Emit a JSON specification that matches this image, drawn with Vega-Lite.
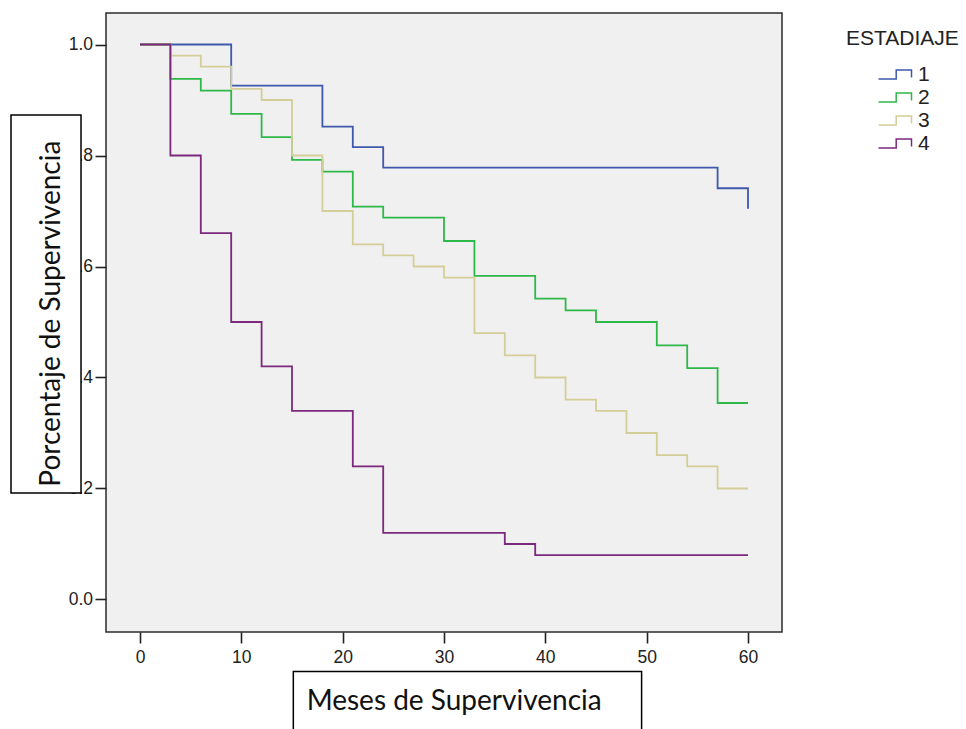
{
  "$schema": "https://vega.github.io/schema/vega-lite/v6.json",
  "width": 676,
  "height": 619,
  "autosize": "none",
  "padding": {"left": 106, "top": 13, "right": 184, "bottom": 97},
  "background": "white",
  "config": {
    "view": {"fill": "#f0f0f0", "stroke": "#2b2b2b", "strokeWidth": 1.5},
    "axis": {
      "domain": false,
      "grid": false,
      "tickSize": 11,
      "tickWidth": 1.6,
      "tickColor": "#222222",
      "labelFont": "Liberation Sans",
      "labelFontSize": 17.5,
      "labelColor": "#222222",
      "title": null
    }
  },
  "datasets": {
    "curvas": [
      {"estadiaje": "1", "meses": 0, "supervivencia": 1.0},
      {"estadiaje": "1", "meses": 9, "supervivencia": 0.926},
      {"estadiaje": "1", "meses": 18, "supervivencia": 0.852},
      {"estadiaje": "1", "meses": 21, "supervivencia": 0.815},
      {"estadiaje": "1", "meses": 24, "supervivencia": 0.778},
      {"estadiaje": "1", "meses": 57, "supervivencia": 0.741},
      {"estadiaje": "1", "meses": 60, "supervivencia": 0.704},
      {"estadiaje": "2", "meses": 0, "supervivencia": 1.0},
      {"estadiaje": "2", "meses": 3, "supervivencia": 0.938},
      {"estadiaje": "2", "meses": 6, "supervivencia": 0.917},
      {"estadiaje": "2", "meses": 9, "supervivencia": 0.875},
      {"estadiaje": "2", "meses": 12, "supervivencia": 0.833},
      {"estadiaje": "2", "meses": 15, "supervivencia": 0.792},
      {"estadiaje": "2", "meses": 18, "supervivencia": 0.771},
      {"estadiaje": "2", "meses": 21, "supervivencia": 0.708},
      {"estadiaje": "2", "meses": 24, "supervivencia": 0.688},
      {"estadiaje": "2", "meses": 30, "supervivencia": 0.646},
      {"estadiaje": "2", "meses": 33, "supervivencia": 0.583},
      {"estadiaje": "2", "meses": 39, "supervivencia": 0.542},
      {"estadiaje": "2", "meses": 42, "supervivencia": 0.521},
      {"estadiaje": "2", "meses": 45, "supervivencia": 0.5},
      {"estadiaje": "2", "meses": 51, "supervivencia": 0.458},
      {"estadiaje": "2", "meses": 54, "supervivencia": 0.417},
      {"estadiaje": "2", "meses": 57, "supervivencia": 0.354},
      {"estadiaje": "2", "meses": 60, "supervivencia": 0.354},
      {"estadiaje": "3", "meses": 0, "supervivencia": 1.0},
      {"estadiaje": "3", "meses": 3, "supervivencia": 0.98},
      {"estadiaje": "3", "meses": 6, "supervivencia": 0.96},
      {"estadiaje": "3", "meses": 9, "supervivencia": 0.92},
      {"estadiaje": "3", "meses": 12, "supervivencia": 0.9},
      {"estadiaje": "3", "meses": 15, "supervivencia": 0.8},
      {"estadiaje": "3", "meses": 18, "supervivencia": 0.7},
      {"estadiaje": "3", "meses": 21, "supervivencia": 0.64},
      {"estadiaje": "3", "meses": 24, "supervivencia": 0.62},
      {"estadiaje": "3", "meses": 27, "supervivencia": 0.6},
      {"estadiaje": "3", "meses": 30, "supervivencia": 0.58},
      {"estadiaje": "3", "meses": 33, "supervivencia": 0.48},
      {"estadiaje": "3", "meses": 36, "supervivencia": 0.44},
      {"estadiaje": "3", "meses": 39, "supervivencia": 0.4},
      {"estadiaje": "3", "meses": 42, "supervivencia": 0.36},
      {"estadiaje": "3", "meses": 45, "supervivencia": 0.34},
      {"estadiaje": "3", "meses": 48, "supervivencia": 0.3},
      {"estadiaje": "3", "meses": 51, "supervivencia": 0.26},
      {"estadiaje": "3", "meses": 54, "supervivencia": 0.24},
      {"estadiaje": "3", "meses": 57, "supervivencia": 0.2},
      {"estadiaje": "3", "meses": 60, "supervivencia": 0.2},
      {"estadiaje": "4", "meses": 0, "supervivencia": 1.0},
      {"estadiaje": "4", "meses": 3, "supervivencia": 0.8},
      {"estadiaje": "4", "meses": 6, "supervivencia": 0.66},
      {"estadiaje": "4", "meses": 9, "supervivencia": 0.5},
      {"estadiaje": "4", "meses": 12, "supervivencia": 0.42},
      {"estadiaje": "4", "meses": 15, "supervivencia": 0.34},
      {"estadiaje": "4", "meses": 21, "supervivencia": 0.24},
      {"estadiaje": "4", "meses": 24, "supervivencia": 0.12},
      {"estadiaje": "4", "meses": 36, "supervivencia": 0.1},
      {"estadiaje": "4", "meses": 39, "supervivencia": 0.08},
      {"estadiaje": "4", "meses": 60, "supervivencia": 0.08}
    ],
    "cajas": [
      {"x1": -12.73, "x2": -5.82, "y1": 0.192, "y2": 0.873},
      {"x1": 15.13, "x2": 49.5, "y1": -0.13, "y2": -0.3}
    ],
    "titulos": [
      {"tx": -7.9, "ty": 0.515, "texto": "Porcentaje de Supervivencia", "angulo": 270},
      {"tx": 31.0, "ty": -0.199, "texto": "Meses de Supervivencia", "angulo": 0}
    ]
  },
  "layer": [
    {
      "data": {"name": "curvas"},
      "mark": {"type": "line", "interpolate": "step-after", "strokeWidth": 1.8},
      "encoding": {
        "x": {
          "field": "meses", "type": "quantitative",
          "scale": {"domain": [-3.355, 63.355], "nice": false, "zero": false},
          "axis": {"values": [0, 10, 20, 30, 40, 50, 60], "labelPadding": 5, "title": null}
        },
        "y": {
          "field": "supervivencia", "type": "quantitative",
          "scale": {"domain": [-0.0586, 1.0568], "nice": false, "zero": false},
          "axis": {"values": [0, 0.2, 0.4, 0.6, 0.8, 1.0], "format": ".1f", "labelPadding": 2.5, "title": null}
        },
        "color": {
          "field": "estadiaje", "type": "nominal",
          "scale": {"domain": ["1", "2", "3", "4"], "range": ["#3e58ac", "#2eb848", "#d3ce97", "#7c287d"]},
          "legend": {
            "title": "ESTADIAJE",
            "orient": "none",
            "legendX": 740,
            "legendY": 14.5,
            "padding": 0,
            "titleFont": "Liberation Sans",
            "titleFontSize": 21,
            "titleFontWeight": "normal",
            "titleColor": "#222222",
            "titlePadding": 15,
            "labelFont": "Liberation Sans",
            "labelFontSize": 21,
            "labelColor": "#222222",
            "symbolType": "M-1.65,0.46L0.12,0.46L0.12,-0.46L1.65,-0.46L1.65,0.3",
            "symbolSize": 400,
            "symbolStrokeWidth": 1.5,
            "symbolFillColor": "transparent",
            "symbolOffset": 38,
            "labelOffset": 12,
            "rowPadding": 2
          }
        }
      }
    },
    {
      "data": {"name": "cajas"},
      "mark": {"type": "rect", "fill": "white", "stroke": "black", "strokeWidth": 1.5, "clip": false},
      "encoding": {
        "x": {"field": "x1", "type": "quantitative"},
        "x2": {"field": "x2"},
        "y": {"field": "y1", "type": "quantitative"},
        "y2": {"field": "y2"}
      }
    },
    {
      "data": {"name": "titulos"},
      "mark": {"type": "text", "font": "Lato", "fontSize": 28, "color": "#111111", "align": "center", "baseline": "alphabetic", "clip": false},
      "encoding": {
        "x": {"field": "tx", "type": "quantitative"},
        "y": {"field": "ty", "type": "quantitative"},
        "text": {"field": "texto"},
        "angle": {"field": "angulo", "type": "quantitative", "scale": null}
      }
    }
  ]
}
